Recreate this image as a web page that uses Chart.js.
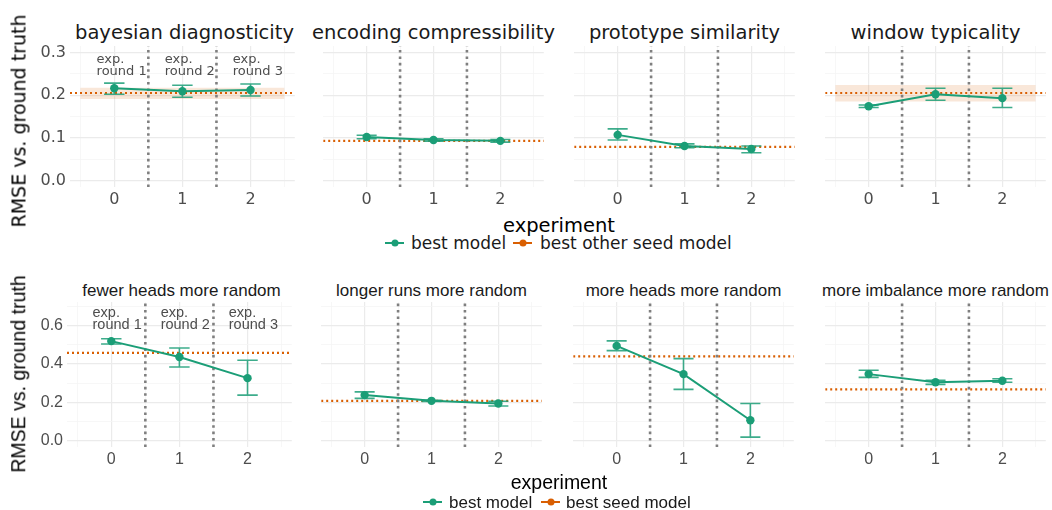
<!DOCTYPE html>
<html>
<head>
<meta charset="utf-8">
<script src="https://cdn.jsdelivr.net/npm/chart.js@4.4.1/dist/chart.umd.min.js"></script>
<style>
  body { margin: 0; background: #fff; width: 1052px; height: 510px; position: relative; overflow: hidden; }
  canvas { position: absolute; }
  .t { position: absolute; white-space: nowrap; line-height: 1; }
  .key { position: absolute; height: 2px; }
  .key span { position: absolute; left: 50%; top: 50%; width: 7px; height: 7px; border-radius: 50%; transform: translate(-50%, -50%); }
</style>
</head>
<body>
<script>
// x positions (experiment index)
const experiments = [0, 1, 2];
const roundLabels = ['round 1', 'round 2', 'round 3'];

// top row
const topTitles = ['bayesian diagnosticity', 'encoding compressibility', 'prototype similarity', 'window typicality'];
const topBest = [[0.216, 0.209, 0.212], [0.102, 0.095, 0.093], [0.107, 0.081, 0.074], [0.174, 0.202, 0.193]];
const topLo   = [[0.202, 0.195, 0.198], [0.098, 0.092, 0.090], [0.095, 0.077, 0.065], [0.171, 0.188, 0.171]];
const topHi   = [[0.228, 0.223, 0.226], [0.106, 0.098, 0.096], [0.121, 0.086, 0.081], [0.177, 0.216, 0.216]];
const topSeed   = [0.205, 0.093, 0.079, 0.205];
const topSeedLo = [0.191, null, null, 0.185];
const topSeedHi = [0.217, null, null, 0.224];

// bottom row
const bottomTitles = ['fewer heads more random', 'longer runs more random', 'more heads more random', 'more imbalance more random'];
const bottomBest = [[0.520, 0.437, 0.326], [0.237, 0.207, 0.193], [0.495, 0.347, 0.105], [0.347, 0.304, 0.312]];
const bottomLo   = [[0.505, 0.384, 0.237], [0.220, 0.204, 0.180], [0.470, 0.267, 0.017], [0.330, 0.293, 0.304]];
const bottomHi   = [[0.532, 0.484, 0.420], [0.254, 0.210, 0.205], [0.521, 0.428, 0.193], [0.367, 0.314, 0.323]];
const bottomSeed   = [0.458, 0.207, 0.440, 0.267];
const bottomSeedLo = [null, null, null, null];
const bottomSeedHi = [null, null, null, null];

const GREEN = '#1b9e77', ORANGE = '#d95f02';

const rows = [
  {
    titles: topTitles, best: topBest, lo: topLo, hi: topHi,
    seed: topSeed, seedLo: topSeedLo, seedHi: topSeedHi,
    font: 'DejaVu Sans', titleSize: 19.5, titleY: 33,
    lefts: [70, 319, 570, 821], plotTop: 46, plotH: 141,
    ymin: -0.015, ymax: 0.315, major: 0.1, minor: 0.05,
    labelYs: [0.283, 0.255], labelSize: 13, labelDx: -0.26,
    yTitleY: 121, yTitleSize: 19,
    xTitleY: 226, legendY: 243, legendSize: 17,
    seedName: 'best other seed model',
    keys: [385, 513], texts: [411, 540]
  },
  {
    titles: bottomTitles, best: bottomBest, lo: bottomLo, hi: bottomHi,
    seed: bottomSeed, seedLo: bottomSeedLo, seedHi: bottomSeedHi,
    font: 'Liberation Sans', titleSize: 17, titleY: 290,
    lefts: [67, 317, 569, 821], plotTop: 302, plotH: 145,
    ymin: -0.035, ymax: 0.725, major: 0.2, minor: 0.1,
    labelYs: [0.668, 0.605], labelSize: 14.5, labelDx: -0.275,
    yTitleY: 374, yTitleSize: 19.5,
    xTitleY: 483, legendY: 502, legendSize: 17,
    seedName: 'best seed model',
    keys: [423, 541], texts: [449, 566]
  }
];

const PLOT_W = 229;

function isMult(v, step) {
  return Math.abs(Math.round(v / step) * step - v) < 1e-6;
}

const errorBars = {
  id: 'errorBars',
  afterDatasetsDraw(chart, args, opts) {
    const {ctx, scales: {x, y}} = chart;
    ctx.save();
    ctx.strokeStyle = 'rgba(27,158,119,0.85)';
    ctx.lineWidth = 1.6;
    opts.lo.forEach((lo, k) => {
      const hi = opts.hi[k];
      const px = x.getPixelForValue(experiments[k]);
      const x0 = x.getPixelForValue(experiments[k] - 0.15);
      const x1 = x.getPixelForValue(experiments[k] + 0.15);
      const y0 = y.getPixelForValue(lo), y1 = y.getPixelForValue(hi);
      ctx.beginPath();
      ctx.moveTo(px, y0); ctx.lineTo(px, y1);
      ctx.moveTo(x0, y0); ctx.lineTo(x1, y0);
      ctx.moveTo(x0, y1); ctx.lineTo(x1, y1);
      ctx.stroke();
    });
    ctx.restore();
  }
};

const roundText = {
  id: 'roundText',
  afterDraw(chart, args, opts) {
    if (!opts.show) return;
    const {ctx, scales: {x, y}} = chart;
    ctx.save();
    ctx.fillStyle = '#4d4d4d';
    ctx.font = opts.size + 'px "' + opts.family + '"';
    ctx.textAlign = 'left';
    ctx.textBaseline = 'middle';
    experiments.forEach((e, k) => {
      const px = x.getPixelForValue(e + opts.dx);
      ctx.fillText('exp.', px, y.getPixelForValue(opts.ys[0]));
      ctx.fillText(roundLabels[k], px, y.getPixelForValue(opts.ys[1]));
    });
    ctx.restore();
  }
};

function addText(txt, cx, cy, size, family, color, rotate) {
  const d = document.createElement('div');
  d.className = 't';
  d.textContent = txt;
  d.style.fontFamily = '"' + family + '"';
  d.style.fontSize = size + 'px';
  d.style.color = color;
  d.style.left = cx + 'px';
  d.style.top = cy + 'px';
  d.style.transform = 'translate(-50%, -50%)' + (rotate ? ' rotate(-90deg)' : '');
  document.body.appendChild(d);
  return d;
}

function addLegend(row) {
  [GREEN, ORANGE].forEach((c, k) => {
    const key = document.createElement('div');
    key.className = 'key';
    key.style.left = row.keys[k] + 'px';
    key.style.top = (row.legendY - 1) + 'px';
    key.style.width = '19px';
    key.style.background = c;
    const dot = document.createElement('span');
    dot.style.background = c;
    key.appendChild(dot);
    document.body.appendChild(key);
    const t = document.createElement('div');
    t.className = 't';
    t.textContent = k === 0 ? 'best model' : row.seedName;
    t.style.fontFamily = '"' + row.font + '"';
    t.style.fontSize = row.legendSize + 'px';
    t.style.left = row.texts[k] + 'px';
    t.style.top = row.legendY + 'px';
    t.style.transform = 'translateY(-50%)';
    t.style.color = '#1a1a1a';
    document.body.appendChild(t);
  });
}

function makePanel(row, i) {
  const yW = i === 0 ? 42 : 0;
  const padTop = 12, xH = 26;
  const canvas = document.createElement('canvas');
  const w = PLOT_W + yW, h = row.plotH + padTop + xH;
  canvas.width = w; canvas.height = h;
  canvas.style.width = w + 'px'; canvas.style.height = h + 'px';
  canvas.style.left = (row.lefts[i] - yW) + 'px';
  canvas.style.top = (row.plotTop - padTop) + 'px';
  document.body.appendChild(canvas);

  const datasets = [];
  if (row.seedLo[i] != null) {
    datasets.push({
      data: [{x: -0.5, y: row.seedLo[i]}, {x: 2.5, y: row.seedLo[i]}],
      borderWidth: 0, pointRadius: 0, order: 6
    });
    datasets.push({
      data: [{x: -0.5, y: row.seedHi[i]}, {x: 2.5, y: row.seedHi[i]}],
      borderWidth: 0, pointRadius: 0, order: 5,
      fill: '-1', backgroundColor: 'rgba(217,95,2,0.15)'
    });
  }
  datasets.push({
    data: [{x: -0.65, y: row.seed[i]}, {x: 2.65, y: row.seed[i]}],
    borderColor: ORANGE, borderWidth: 2.2, borderDash: [2, 3],
    pointRadius: 0, order: 4
  });
  [0.5, 1.5].forEach(v => {
    datasets.push({
      data: [{x: v, y: row.ymin}, {x: v, y: row.ymax}],
      borderColor: '#7f7f7f', borderWidth: 2.6, borderDash: [2.6, 3.8],
      pointRadius: 0, order: 3
    });
  });
  datasets.push({
    data: experiments.map((e, k) => ({x: e, y: row.best[i][k]})),
    borderColor: GREEN, backgroundColor: GREEN, borderWidth: 2,
    pointRadius: 4.2, pointBorderWidth: 0, order: 0
  });

  const gridColor = step => ctx => {
    const v = ctx.tick ? ctx.tick.value : 0;
    return isMult(v, step) ? '#ebebeb' : '#f5f5f5';
  };
  const gridWidth = step => ctx => {
    const v = ctx.tick ? ctx.tick.value : 0;
    return isMult(v, step) ? 1.2 : 0.8;
  };

  new Chart(canvas, {
    type: 'line',
    data: {datasets},
    plugins: [errorBars, roundText],
    options: {
      responsive: false,
      animation: false,
      devicePixelRatio: 1,
      layout: {padding: {top: padTop, left: 0, right: 0, bottom: 0}},
      plugins: {
        legend: {display: false},
        tooltip: {enabled: false},
        errorBars: {lo: row.lo[i], hi: row.hi[i]},
        roundText: {show: i === 0, ys: row.labelYs, size: row.labelSize, family: row.font, dx: row.labelDx}
      },
      scales: {
        x: {
          type: 'linear', min: -0.65, max: 2.65,
          border: {display: false},
          grid: {color: gridColor(1), lineWidth: gridWidth(1), drawTicks: false},
          ticks: {
            stepSize: 0.5, includeBounds: false, autoSkip: false, maxRotation: 0,
            padding: 3, color: '#4d4d4d', font: {family: row.font, size: 16},
            callback: v => isMult(v, 1) ? String(Math.round(v)) : ''
          },
          afterFit: s => { s.height = xH; s.paddingLeft = 0; s.paddingRight = 0; }
        },
        y: {
          min: row.ymin, max: row.ymax,
          border: {display: false},
          grid: {color: gridColor(row.major), lineWidth: gridWidth(row.major), drawTicks: false},
          ticks: {
            display: i === 0,
            stepSize: row.minor, includeBounds: false, autoSkip: false,
            padding: 4, color: '#4d4d4d', font: {family: row.font, size: 16},
            callback: v => isMult(v, row.major) ? v.toFixed(1) : ''
          },
          afterFit: s => { s.width = yW; s.paddingTop = 0; s.paddingBottom = 0; }
        }
      }
    }
  });
}

rows.forEach(row => {
  row.titles.forEach((title, i) => {
    addText(title, row.lefts[i] + PLOT_W / 2, row.titleY, row.titleSize, row.font, '#1a1a1a', false);
    makePanel(row, i);
  });
  addText('RMSE vs. ground truth', 19, row.yTitleY, row.yTitleSize, row.font, '#000', true);
  addText('experiment', 559, row.xTitleY, 19.5, row.font, '#000', false);
  addLegend(row);
});
</script>
</body>
</html>
